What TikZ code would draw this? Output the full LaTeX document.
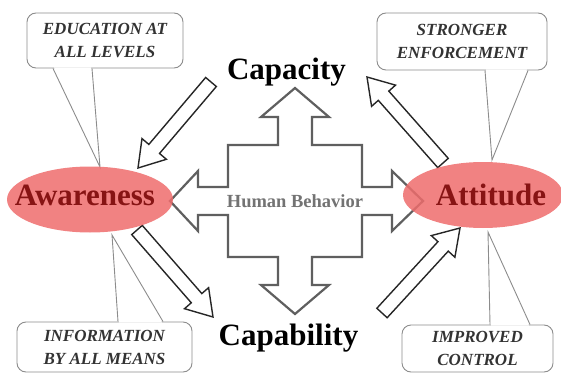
\documentclass[tikz,border=0pt]{standalone}
\usepackage{fontspec}
\setmainfont{Liberation Serif}
\usepackage{tikz}
\usetikzlibrary{shapes,arrows,calc,positioning}

\definecolor{blobred}{RGB}{238,108,108}
\definecolor{darkred}{RGB}{135,20,20}
\definecolor{crossgray}{RGB}{95,95,95}

% block arrow sizes (shaft half width, head half width, head length)
\def\sw{7}
\def\hw{16}
\def\hl{25}

% hollow block arrow from #1 (tail) to #2 (tip)
\newcommand{\blockarrow}[2]{%
  \coordinate (ahead) at ($(#2)!\hl pt!(#1)$);
  \draw[blockarr] ($(#1)!\sw pt!90:(#2)$) -- ($(ahead)!\sw pt!90:(#2)$)
    -- ($(ahead)!\hw pt!90:(#2)$) -- (#2) -- ($(ahead)!\hw pt!-90:(#2)$)
    -- ($(ahead)!\sw pt!-90:(#2)$) -- ($(#1)!\sw pt!-90:(#2)$) -- cycle;
}

\tikzset{
  callout/.style={draw=black!45, line width=0.9pt, fill=white,
    rounded corners=9pt, align=center, inner sep=0pt,
    font=\fontsize{17}{23}\selectfont\bfseries\itshape, text=black!80},
  tail/.style={draw=black!45, line width=0.9pt},
  blob/.style={ellipse, fill=blobred, fill opacity=0.85, inner sep=0pt,
    minimum width=166pt, minimum height=66pt},
  bigtxt/.style={font=\fontsize{31}{31}\selectfont\bfseries, inner sep=0pt},
  crossline/.style={draw=crossgray, line width=2.2pt, fill=white,
    line join=miter},
  blockarr/.style={draw=black!85, line width=1.4pt, fill=white},
  behav/.style={font=\fontsize{18.5}{18.5}\selectfont\bfseries, text=black!55}
}

\begin{document}
\begin{tikzpicture}[x=1pt,y=-1pt]
    \useasboundingbox (0,0) rectangle (561,374);

    % Tail ends on the two ellipses
    \coordinate (aw-top) at (100,167);
    \coordinate (aw-bot) at (112,235);
    \coordinate (at-top) at (492,160);
    \coordinate (at-bot) at (488,232);

    % Draw the callouts
    \node[callout, minimum width=156, minimum height=55] (edu) at (105,40.5)
        {EDUCATION AT\\ALL LEVELS};
    \node[callout, minimum width=170, minimum height=57] (enf) at (462,41.5)
        {STRONGER\\ENFORCEMENT};
    \node[callout, minimum width=175, minimum height=50] (info) at (104.5,347)
        {INFORMATION\\BY ALL MEANS};
    \node[callout, minimum width=151, minimum height=47] (ctrl) at (477.5,348.5)
        {IMPROVED\\CONTROL};

    \fill[white] ([xshift=-51,yshift=1]edu.south) -- (aw-top) -- ([xshift=-14,yshift=1]edu.south) -- cycle;
    \draw[tail] ([xshift=-52]edu.south) -- (aw-top) -- ([xshift=-13]edu.south);
    \fill[white] ([xshift=24,yshift=1]enf.south) -- (at-top) -- ([xshift=65,yshift=1]enf.south) -- cycle;
    \draw[tail] ([xshift=23]enf.south) -- (at-top) -- ([xshift=66]enf.south);
    \fill[white] ([xshift=14.5,yshift=-1]info.north) -- (aw-bot) -- ([xshift=57.5,yshift=-1]info.north) -- cycle;
    \draw[tail] ([xshift=13.5]info.north) -- (aw-bot) -- ([xshift=58.5]info.north);
    \fill[white] ([xshift=13.5,yshift=-1]ctrl.north) -- (at-bot) -- ([xshift=51.5,yshift=-1]ctrl.north) -- cycle;
    \draw[tail] ([xshift=12.5]ctrl.north) -- (at-bot) -- ([xshift=52.5]ctrl.north);

    % Draw the four-way arrow
    \coordinate (mid) at (295,201);
    \draw[crossline, shift={(mid)}] (0,-113) -- (34,-84) -- (17,-84) -- (17,-56)
        -- (67,-56) -- (67,-14) -- (97,-14) -- (97,-30) -- (128,0) -- (97,30)
        -- (97,14) -- (67,14) -- (67,56) -- (17,56) -- (17,84) -- (34,84)
        -- (0,113) -- (-34,84) -- (-17,84) -- (-17,56) -- (-67,56) -- (-67,14)
        -- (-97,14) -- (-97,30) -- (-125,0) -- (-97,-30) -- (-97,-14)
        -- (-67,-14) -- (-67,-56) -- (-17,-56) -- (-17,-84) -- (-34,-84) -- cycle;
    \node[behav] (hb) at (mid) {Human Behavior};

    % Draw the block arrows
    \coordinate (cap-out) at (211,82);
    \coordinate (aw-in) at (138,168);
    \coordinate (aw-out) at (137,230);
    \coordinate (cab-in) at (213,317);
    \coordinate (cab-out) at (382,313);
    \coordinate (at-in) at (460,228);
    \coordinate (at-out) at (443,163);
    \coordinate (cap-in) at (367,77);
    \blockarrow{cap-out}{aw-in}
    \blockarrow{aw-out}{cab-in}
    \blockarrow{cab-out}{at-in}
    \blockarrow{at-out}{cap-in}

    % Draw the ellipses and labels
    \node[blob] (aw) at (90,199.5) {};
    \node[blob, minimum width=160] (at) at (483,195) {};
    \node[bigtxt, text=darkred, anchor=base] (awt) at (85,205) {Awareness};
    \node[bigtxt, text=darkred, anchor=base] (att) at (491,205) {Attitude};
    \node[bigtxt, anchor=base] (cap) at (286.5,80) {Capacity};
    \node[bigtxt, anchor=base] (cab) at (288.5,345) {Capability};

\end{tikzpicture}
\end{document}
